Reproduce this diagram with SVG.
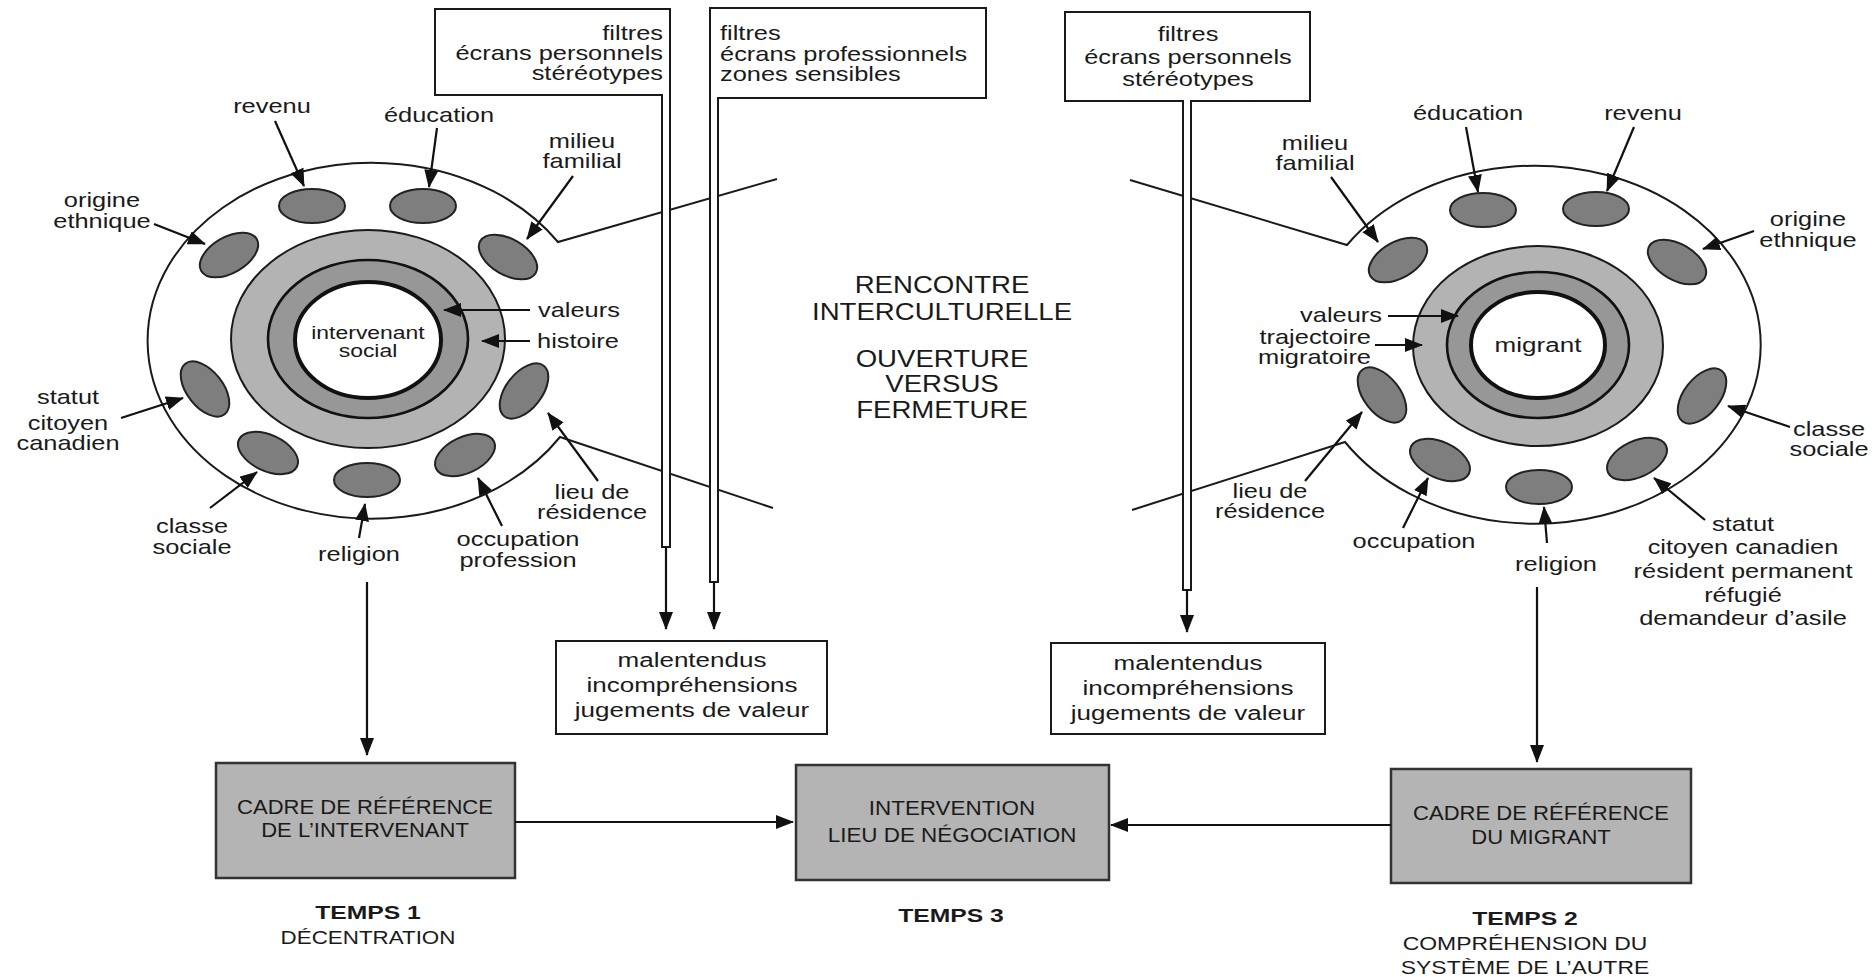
<svg xmlns="http://www.w3.org/2000/svg" width="1875" height="977" viewBox="0 0 1875 977">
<style>
text{font-family:"Liberation Sans",Arial,sans-serif;fill:#1a1a1a}
.l{font-size:20.5px;text-anchor:middle}
.ls{font-size:20.5px;text-anchor:start}
.le{font-size:20.5px;text-anchor:end}
.c{font-size:23px;text-anchor:middle}
.bx{font-size:19.5px;text-anchor:middle}
.tb{font-size:19px;font-weight:bold;text-anchor:middle}
.ts{font-size:18.5px;text-anchor:middle}
.frame{fill:none;stroke:#1a1a1a;stroke-width:2}
.pipe{fill:#fff;stroke:#1a1a1a;stroke-width:2}
.ring1{fill:#b3b3b3;stroke:#1a1a1a;stroke-width:2}
.ring2{fill:#979797;stroke:#111;stroke-width:2.6}
.core{fill:#fff;stroke:#111;stroke-width:4}
.ov{fill:#7e7e7e;stroke:#222;stroke-width:2}
.box{fill:#b4b4b4;stroke:#333;stroke-width:2.5}
.wbox{fill:#fff;stroke:#1a1a1a;stroke-width:2}
.ar{fill:none;stroke:#111;stroke-width:2.2;marker-end:url(#ah)}
</style>
<defs>
<marker id="ah" markerUnits="userSpaceOnUse" markerWidth="18" markerHeight="14" refX="17" refY="7" orient="auto">
<path d="M0,0 L18,7 L0,14 Z" fill="#111"/>
</marker>
</defs>
<rect width="1875" height="977" fill="#fff"/>

<g id="left-frame">
<path class="frame" d="M777,179 L558,242 A224,178 0 1 0 560,437 L773,508"/>
</g>
<g id="right-frame">
<path class="frame" d="M1130,180 L1347,245 A226,179 0 1 1 1345,442 L1132,510"/>
</g>

<g id="filtre-perso-gauche">
<path class="pipe" d="M435,9 H670 V547 H662 V95 H435 Z"/>
<text class="le" transform="translate(663,40) scale(1.24,1)">filtres<tspan x="0" dy="20">écrans personnels</tspan><tspan x="0" dy="20">stéréotypes</tspan></text>
</g>
<g id="filtre-pro">
<path class="pipe" d="M710,8 H986 V98 H718 V582 H710 Z"/>
<text class="ls" transform="translate(720,40) scale(1.24,1)">filtres<tspan x="0" dy="21">écrans professionnels</tspan><tspan x="0" dy="20">zones sensibles</tspan></text>
</g>
<g id="filtre-perso-droite">
<path class="pipe" d="M1065,12 H1310 V101 H1191 V590 H1183 V101 H1065 Z"/>
<text class="l" transform="translate(1188,41) scale(1.24,1)">filtres<tspan x="0" dy="23">écrans personnels</tspan><tspan x="0" dy="22">stéréotypes</tspan></text>
</g>

<g id="intervenant">
<ellipse class="ring1" cx="368" cy="339" rx="137" ry="109"/>
<ellipse class="ring2" cx="368" cy="339" rx="100" ry="79"/>
<ellipse class="core" cx="368" cy="340" rx="73" ry="58"/>
<text class="l" style="font-size:18.5px" transform="translate(368,339) scale(1.24,1)">intervenant<tspan x="0" dy="18.5">social</tspan></text>
<ellipse class="ov" cx="312" cy="206" rx="33" ry="17"/>
<ellipse class="ov" cx="423" cy="206" rx="33" ry="17"/>
<ellipse class="ov" cx="508" cy="257" rx="32" ry="18" transform="rotate(30 508 257)"/>
<ellipse class="ov" cx="229" cy="255" rx="32" ry="18" transform="rotate(-30 229 255)"/>
<ellipse class="ov" cx="205" cy="389" rx="32" ry="18" transform="rotate(52 205 389)"/>
<ellipse class="ov" cx="524" cy="391" rx="32" ry="18" transform="rotate(-52 524 391)"/>
<ellipse class="ov" cx="268" cy="453" rx="32" ry="18" transform="rotate(25 268 453)"/>
<ellipse class="ov" cx="465" cy="455" rx="32" ry="18" transform="rotate(-25 465 455)"/>
<ellipse class="ov" cx="367" cy="480" rx="33" ry="17"/>
<text class="l" transform="translate(272,113) scale(1.24,1)">revenu</text>
<text class="l" transform="translate(439,122) scale(1.24,1)">éducation</text>
<text class="l" transform="translate(582,148) scale(1.24,1)">milieu<tspan x="0" dy="20.5">familial</tspan></text>
<text class="l" transform="translate(102,207) scale(1.24,1)">origine<tspan x="0" dy="21">ethnique</tspan></text>
<text class="l" transform="translate(68,404) scale(1.24,1)">statut<tspan x="0" dy="26">citoyen</tspan><tspan x="0" dy="20">canadien</tspan></text>
<text class="l" transform="translate(192,533) scale(1.24,1)">classe<tspan x="0" dy="21">sociale</tspan></text>
<text class="l" transform="translate(359,561) scale(1.24,1)">religion</text>
<text class="l" transform="translate(518,546) scale(1.24,1)">occupation<tspan x="0" dy="21">profession</tspan></text>
<text class="l" transform="translate(592,499) scale(1.24,1)">lieu de<tspan x="0" dy="20">résidence</tspan></text>
<text class="ls" transform="translate(538,317) scale(1.24,1)">valeurs</text>
<text class="ls" transform="translate(537,348) scale(1.24,1)">histoire</text>
</g>

<g id="migrant">
<ellipse class="ring1" cx="1538" cy="346" rx="125" ry="100"/>
<ellipse class="ring2" cx="1538" cy="345" rx="91" ry="73"/>
<ellipse class="core" cx="1538" cy="345" rx="67" ry="53"/>
<text class="l" style="font-size:21px" transform="translate(1538,352) scale(1.24,1)">migrant</text>
<ellipse class="ov" cx="1483" cy="210" rx="33" ry="17"/>
<ellipse class="ov" cx="1596" cy="209" rx="33" ry="17"/>
<ellipse class="ov" cx="1398" cy="260" rx="32" ry="18" transform="rotate(-30 1398 260)"/>
<ellipse class="ov" cx="1677" cy="262" rx="32" ry="18" transform="rotate(30 1677 262)"/>
<ellipse class="ov" cx="1382" cy="395" rx="32" ry="18" transform="rotate(52 1382 395)"/>
<ellipse class="ov" cx="1702" cy="396" rx="32" ry="18" transform="rotate(-52 1702 396)"/>
<ellipse class="ov" cx="1440" cy="460" rx="32" ry="18" transform="rotate(25 1440 460)"/>
<ellipse class="ov" cx="1637" cy="459" rx="32" ry="18" transform="rotate(-25 1637 459)"/>
<ellipse class="ov" cx="1539" cy="487" rx="33" ry="17"/>
<text class="l" transform="translate(1468,120) scale(1.24,1)">éducation</text>
<text class="l" transform="translate(1643,120) scale(1.24,1)">revenu</text>
<text class="l" transform="translate(1315,150) scale(1.24,1)">milieu<tspan x="0" dy="20">familial</tspan></text>
<text class="l" transform="translate(1808,226) scale(1.24,1)">origine<tspan x="0" dy="21">ethnique</tspan></text>
<text class="le" transform="translate(1382,322) scale(1.24,1)">valeurs</text>
<text class="le" transform="translate(1371,344) scale(1.24,1)">trajectoire<tspan x="0" dy="20">migratoire</tspan></text>
<text class="l" transform="translate(1270,498) scale(1.24,1)">lieu de<tspan x="0" dy="20.5">résidence</tspan></text>
<text class="l" transform="translate(1414,548) scale(1.24,1)">occupation</text>
<text class="l" transform="translate(1556,571) scale(1.24,1)">religion</text>
<text class="l" transform="translate(1743,531) scale(1.24,1)">statut<tspan x="0" dy="23.5">citoyen canadien</tspan><tspan x="0" dy="23.5">résident permanent</tspan><tspan x="0" dy="24.5">réfugié</tspan><tspan x="0" dy="22.5">demandeur d’asile</tspan></text>
<text class="l" transform="translate(1829,436) scale(1.24,1)">classe<tspan x="0" dy="20">sociale</tspan></text>
</g>

<g id="rencontre">
<text class="c" transform="translate(942,293) scale(1.2,1)">RENCONTRE<tspan x="0" dy="27">INTERCULTURELLE</tspan></text>
<text class="c" transform="translate(942,367) scale(1.2,1)">OUVERTURE<tspan x="0" dy="25">VERSUS</tspan><tspan x="0" dy="26">FERMETURE</tspan></text>
</g>

<g id="malentendus-gauche">
<rect class="wbox" x="556" y="641" width="271" height="93"/>
<text class="l" style="font-size:21px" transform="translate(692,667) scale(1.24,1)">malentendus<tspan x="0" dy="25">incompréhensions</tspan><tspan x="0" dy="25">jugements de valeur</tspan></text>
</g>
<g id="malentendus-droite">
<rect class="wbox" x="1051" y="643" width="274" height="91"/>
<text class="l" style="font-size:21px" transform="translate(1188,670) scale(1.24,1)">malentendus<tspan x="0" dy="25">incompréhensions</tspan><tspan x="0" dy="25">jugements de valeur</tspan></text>
</g>

<g id="cadre-intervenant">
<rect class="box" x="216" y="763" width="299" height="115"/>
<text class="bx" transform="translate(365,814) scale(1.13,1)">CADRE DE RÉFÉRENCE<tspan x="0" dy="23">DE L’INTERVENANT</tspan></text>
</g>
<g id="intervention">
<rect class="box" x="796" y="765" width="313" height="115"/>
<text class="bx" transform="translate(952,815) scale(1.15,1)">INTERVENTION<tspan x="0" dy="27">LIEU DE NÉGOCIATION</tspan></text>
</g>
<g id="cadre-migrant">
<rect class="box" x="1391" y="769" width="300" height="114"/>
<text class="bx" transform="translate(1541,820) scale(1.13,1)">CADRE DE RÉFÉRENCE<tspan x="0" dy="24">DU MIGRANT</tspan></text>
</g>

<g id="temps1">
<text class="tb" transform="translate(368,919) scale(1.3,1)">TEMPS 1</text>
<text class="ts" transform="translate(368,944) scale(1.21,1)">DÉCENTRATION</text>
</g>
<g id="temps3">
<text class="tb" transform="translate(951,922) scale(1.3,1)">TEMPS 3</text>
</g>
<g id="temps2">
<text class="tb" transform="translate(1525,925) scale(1.3,1)">TEMPS 2</text>
<text class="ts" transform="translate(1525,950) scale(1.24,1)">COMPRÉHENSION DU<tspan x="0" dy="24">SYSTÈME DE L’AUTRE</tspan></text>
</g>

<g id="connectors">
<path class="ar" d="M275,121 L304,186"/>
<path class="ar" d="M437,128 L429,187"/>
<path class="ar" d="M573,176 L527,239"/>
<path class="ar" d="M154,224 L205,244"/>
<path class="ar" d="M121,418 L183,398"/>
<path class="ar" d="M210,508 L257,472"/>
<path class="ar" d="M359,538 L365,504"/>
<path class="ar" d="M502,526 L478,478"/>
<path class="ar" d="M598,481 L548,413"/>
<path class="ar" d="M530,310 L444,310"/>
<path class="ar" d="M530,341 L482,341"/>

<path class="ar" d="M1466,127 L1478,192"/>
<path class="ar" d="M1634,127 L1607,191"/>
<path class="ar" d="M1331,177 L1378,242"/>
<path class="ar" d="M1754,231 L1703,249"/>
<path class="ar" d="M1388,316 L1458,316"/>
<path class="ar" d="M1375,345 L1422,345"/>
<path class="ar" d="M1305,481 L1362,412"/>
<path class="ar" d="M1403,528 L1428,478"/>
<path class="ar" d="M1547,543 L1544,507"/>
<path class="ar" d="M1705,520 L1654,478"/>
<path class="ar" d="M1790,427 L1728,406"/>

<path class="ar" d="M666,547 L666,629"/>
<path class="ar" d="M714,582 L714,629"/>
<path class="ar" d="M1187,590 L1187,632"/>

<path class="ar" d="M367,582 L367,755"/>
<path class="ar" d="M1537,587 L1537,762"/>
<path class="ar" d="M515,822 L793,822"/>
<path class="ar" d="M1391,825 L1111,825"/>
</g>
</svg>
